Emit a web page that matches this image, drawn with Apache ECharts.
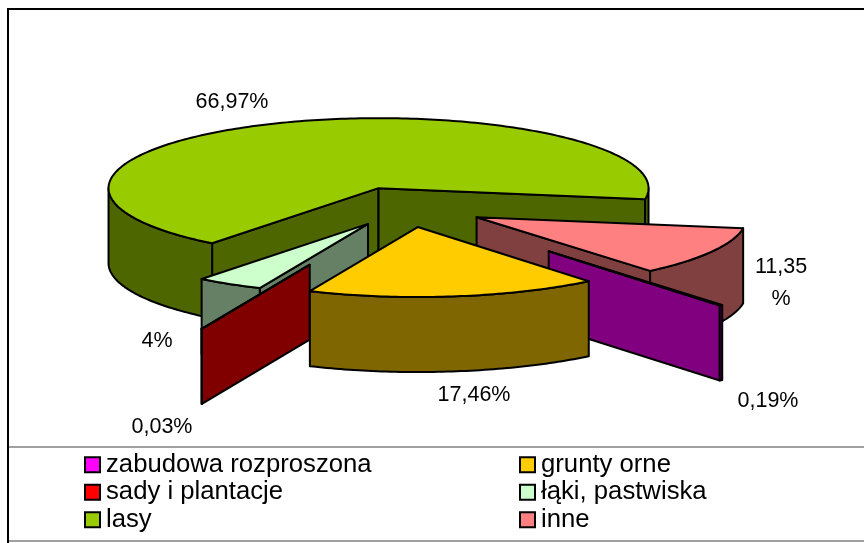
<!DOCTYPE html>
<html>
<head>
<meta charset="utf-8">
<style>
  html, body { margin: 0; padding: 0; background: #fff; }
  #chart { width: 864px; height: 543px; }
</style>
<script src="https://cdn.jsdelivr.net/npm/echarts@6/dist/echarts.min.js"></script>
</head>
<body>
<div id="chart"></div>
<script>
// legend order, clockwise around the pie
const categories = ['zabudowa rozproszona', 'grunty orne', 'sady i plantacje', 'łąki, pastwiska', 'lasy', 'inne']
const shares = [0.19, 17.46, 0.03, 4, 66.97, 11.35]
const shareLabels = ['0,19%', '17,46%', '0,03%', '4%', '66,97%', '11,35\n%']
const topColors = ['#ff00ff', '#ffcc00', '#ff0000', '#ccffcc', '#99cc00', '#ff8080']
const sideColors = ['#800080', '#806600', '#800000', '#668066', '#4d6600', '#804040']
const explode = [222, 78, 243, 76, 78, 80]
const labelAt = [[768, 401], [474, 395], [162, 427], [157, 341], [232, 102], [781, 283]]
// painter's order, back to front
const drawOrder = [4, 5, 3, 0, 2, 1]

const cx = 407, cy = 207, rx = 270, ry = 70, depth = 75, startAngle = 140
const outline = { stroke: '#000', lineWidth: 2, lineJoin: 'round' }

let chart = echarts.init(document.getElementById('chart'))

function polygon(points, fill) {
  return { type: 'polygon', shape: { points: points }, style: Object.assign({ fill: fill }, outline) }
}

function arc(from, to) {
  let angles = []
  for (let a = from; a < to; a += 1) angles.push(a)
  angles.push(to)
  return angles
}

function renderSlice(index) {
  return function (params, api) {
    let start = startAngle + api.value(0) * 3.6
    let end = start + api.value(1) * 3.6
    let mid = (start + end) / 2 * Math.PI / 180
    let ox = cx + Math.sin(mid) * explode[index]
    let oy = cy - Math.cos(mid) * explode[index] * ry / rx
    let pt = function (deg, drop) {
      let t = deg * Math.PI / 180
      return [ox + Math.sin(t) * rx, oy - Math.cos(t) * ry + drop]
    }
    let apex = [ox, oy], apexLow = [ox, oy + depth]
    let children = []

    if (Math.sin(start * Math.PI / 180) < 0) {
      children.push(polygon([apex, pt(start, 0), pt(start, depth), apexLow], sideColors[index]))
    }
    if (Math.sin(end * Math.PI / 180) > 0) {
      children.push(polygon([apex, pt(end, 0), pt(end, depth), apexLow], sideColors[index]))
    }
    // outer wall, front half only
    ;[[90, 270], [450, 630]].forEach(function (front) {
      let from = Math.max(start, front[0]), to = Math.min(end, front[1])
      if (from >= to) return
      let angles = arc(from, to)
      let wall = angles.map(a => pt(a, 0)).concat(angles.slice().reverse().map(a => pt(a, depth)))
      children.push(polygon(wall, sideColors[index]))
    })
    children.push(polygon([apex].concat(arc(start, end).map(a => pt(a, 0))), api.visual('color')))
    children.push({
      type: 'text',
      x: labelAt[index][0],
      y: labelAt[index][1],
      style: {
        text: shareLabels[index],
        fill: '#000',
        font: '21.5px "Liberation Sans", Arial, sans-serif',
        lineHeight: 32,
        align: 'center',
        verticalAlign: 'middle'
      }
    })
    return { type: 'group', children: children }
  }
}

let series = drawOrder.map(function (i) {
  let before = shares.slice(0, i).reduce((a, b) => a + b, 0)
  return {
    type: 'custom',
    name: categories[i],
    coordinateSystem: 'none',
    silent: true,
    animation: false,
    itemStyle: { color: topColors[i] },
    renderItem: renderSlice(i),
    data: [[before, shares[i]]]
  }
})

function legend(left, names) {
  return {
    left: left,
    top: 451,
    orient: 'vertical',
    selectedMode: false,
    icon: 'rect',
    itemWidth: 15,
    itemHeight: 15,
    itemGap: 0,
    padding: 0,
    data: names,
    itemStyle: { borderColor: '#000', borderWidth: 2 },
    textStyle: { color: '#000', fontFamily: '"Liberation Sans", Arial, sans-serif', fontSize: 25.7, lineHeight: 27.5, padding: [0, 0, 0, 1] }
  }
}

chart.setOption({
  animation: false,
  backgroundColor: '#fff',
  legend: [
    legend(84, [categories[0], categories[2], categories[4]]),
    legend(519, [categories[1], categories[3], categories[5]])
  ],
  graphic: [
    { type: 'line', shape: { x1: 8, y1: 9, x2: 8, y2: 543 }, style: { stroke: '#000', lineWidth: 2 } },
    { type: 'line', shape: { x1: 7, y1: 9, x2: 864, y2: 9 }, style: { stroke: '#000', lineWidth: 2 } },
    { type: 'line', shape: { x1: 9, y1: 447, x2: 864, y2: 447 }, style: { stroke: '#808080', lineWidth: 1.5 } },
    { type: 'line', shape: { x1: 9, y1: 541, x2: 864, y2: 541 }, style: { stroke: '#808080', lineWidth: 1.5 } }
  ],
  series: series
})
</script>
</body>
</html>
